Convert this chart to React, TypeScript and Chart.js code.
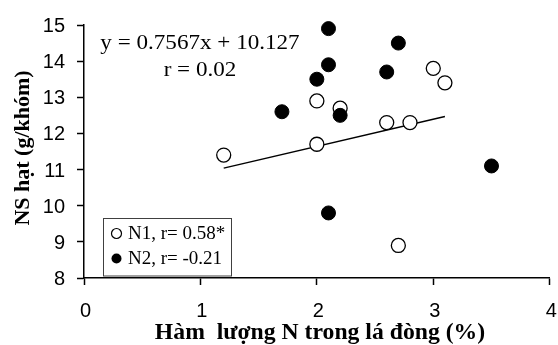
import React, { useEffect, useRef } from "react";
import { Chart, registerables } from "chart.js";

Chart.register(...registerables);

const xTicks = [0, 1, 2, 3, 4];
const yTicks = [8, 9, 10, 11, 12, 13, 14, 15];

const n1X = [1.2, 2.0, 2.2, 2.0, 2.6, 2.8, 3.0, 3.1, 2.7];
const n1Y = [11.4, 12.9, 12.7, 11.7, 12.3, 12.3, 13.8, 13.4, 8.9];

const n2X = [2.1, 2.7, 2.1, 2.0, 2.6, 1.7, 2.2, 3.5, 2.1];
const n2Y = [14.9, 14.5, 13.9, 13.5, 13.7, 12.6, 12.5, 11.1, 9.8];

const trendX = [1.2, 3.1];
const trendY = [11.04, 12.47];

const xTitle = "Hàm  lượng N trong lá đòng (%)";
const yTitle = "NS hạt (g/khóm)";
const equationLines = ["y = 0.7567x + 10.127", "r = 0.02"];
const legendLabels = ["N1, r= 0.58*", "N2, r= -0.21"];

const SERIF = '"Liberation Serif", "Times New Roman", serif';
const SANS = '"Liberation Sans", Arial, sans-serif';

const textPlugin = {
  id: "customText",
  afterDraw(chart: any) {
    const ctx = chart.ctx as CanvasRenderingContext2D;
    const xs = chart.scales.x;
    const ys = chart.scales.y;
    ctx.save();
    ctx.fillStyle = "#000";

    // y tick labels
    ctx.font = "20px " + SANS;
    ctx.textAlign = "right";
    ctx.textBaseline = "alphabetic";
    yTicks.forEach((v) => {
      const py = ys.getPixelForValue(v);
      ctx.fillText(String(v), 65, py + 7);
    });

    // x tick labels
    ctx.textAlign = "center";
    xTicks.forEach((v) => {
      const px = xs.getPixelForValue(v);
      ctx.fillText(String(v), px + 1.5, 316.5);
    });

    // y title
    ctx.save();
    ctx.font = "bold 22px " + SERIF;
    ctx.translate(23, 148);
    ctx.rotate(-Math.PI / 2);
    ctx.textAlign = "center";
    ctx.textBaseline = "middle";
    ctx.fillText(yTitle, 0, 0);
    ctx.restore();

    // x title
    ctx.save();
    ctx.font = "bold 23px " + SERIF;
    ctx.textAlign = "center";
    ctx.textBaseline = "alphabetic";
    ctx.translate(320, 339);
    ctx.scale(1.03, 1);
    ctx.fillText(xTitle, 0, 0);
    ctx.restore();

    // equation
    ctx.font = "22px " + SERIF;
    ctx.textAlign = "center";
    ctx.textBaseline = "alphabetic";
    const eqBase = [49, 76];
    equationLines.forEach((t, i) => {
      ctx.save();
      ctx.translate(200, eqBase[i]);
      ctx.scale(1.05, 1);
      ctx.fillText(t, 0, 0);
      ctx.restore();
    });

    // legend box
    ctx.strokeStyle = "#404040";
    ctx.lineWidth = 1;
    ctx.strokeRect(103.5, 218.5, 128, 57.5);
    const rows = [233.5, 258.5];
    ctx.font = "19px " + SERIF;
    ctx.textAlign = "left";
    ctx.textBaseline = "middle";
    legendLabels.forEach((t, i) => {
      ctx.beginPath();
      ctx.arc(116.5, rows[i], 5, 0, Math.PI * 2);
      if (i === 0) {
        ctx.fillStyle = "#fff";
        ctx.fill();
        ctx.strokeStyle = "#000";
        ctx.lineWidth = 1.2;
        ctx.stroke();
      } else {
        ctx.fillStyle = "#000";
        ctx.fill();
      }
      ctx.fillStyle = "#000";
      ctx.fillText(t, 128, rows[i] + 1);
    });

    ctx.restore();
  },
};

export default function App() {
  const canvasRef = useRef<HTMLCanvasElement | null>(null);

  useEffect(() => {
    if (!canvasRef.current) return;
    const axisCommon = {
      type: "linear" as const,
      ticks: { display: false, stepSize: 1 },
      grid: {
        display: true,
        drawOnChartArea: false,
        drawTicks: true,
        tickLength: 7,
        tickColor: "#000",
        tickWidth: 1.5,
      },
      border: { display: true, color: "#000", width: 1.5 },
    };
    const chart = new Chart(canvasRef.current, {
      type: "scatter",
      data: {
        datasets: [
          {
            label: "N2",
            data: n2X.map((x, i) => ({ x, y: n2Y[i] })),
            pointRadius: 7,
            pointBackgroundColor: "#000",
            pointBorderColor: "#000",
            pointBorderWidth: 1,
            order: 0,
            clip: false,
          },
          {
            label: "N1",
            data: n1X.map((x, i) => ({ x, y: n1Y[i] })),
            pointRadius: 7,
            pointBackgroundColor: "#fff",
            pointBorderColor: "#000",
            pointBorderWidth: 1.3,
            order: 1,
            clip: false,
          },
          {
            label: "trend",
            data: trendX.map((x, i) => ({ x, y: trendY[i] })),
            showLine: true,
            pointRadius: 0,
            borderColor: "#000",
            borderWidth: 1.5,
            order: 2,
          },
        ],
      },
      options: {
        animation: false,
        responsive: false,
        maintainAspectRatio: false,
        devicePixelRatio: 1,
        layout: { padding: { left: 0, right: 6.5, top: 25, bottom: 0 } },
        plugins: {
          legend: { display: false },
          tooltip: { enabled: false },
        },
        scales: {
          x: {
            ...axisCommon,
            min: xTicks[0],
            max: xTicks[xTicks.length - 1],
            afterFit: (s: any) => {
              s.height = 67;
            },
          },
          y: {
            ...axisCommon,
            min: yTicks[0],
            max: yTicks[yTicks.length - 1],
            afterFit: (s: any) => {
              s.width = 84;
            },
          },
        },
      } as any,
      plugins: [textPlugin],
    });
    return () => chart.destroy();
  }, []);

  return (
    <div
      style={{
        position: "fixed",
        left: 0,
        top: 0,
        width: 558,
        height: 345,
        background: "#fff",
      }}
    >
      <canvas ref={canvasRef} width={558} height={345} />
    </div>
  );
}
